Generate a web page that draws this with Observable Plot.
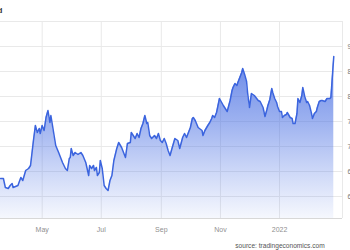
<!DOCTYPE html>
<html><head><meta charset="utf-8">
<script src="https://cdn.jsdelivr.net/npm/d3@7"></script>
<script src="https://cdn.jsdelivr.net/npm/@observablehq/plot@0.6"></script>
<style>
html,body{margin:0;padding:0;background:#fff;}
#chart{position:relative;width:350px;height:250px;overflow:hidden;}
</style></head><body><div id="chart"></div>
<script>
const dates = [
"2021-03-19","2021-03-22","2021-03-24","2021-03-27","2021-03-29","2021-03-31","2021-04-01","2021-04-06","2021-04-09","2021-04-11",
"2021-04-14","2021-04-17","2021-04-19","2021-04-22","2021-04-24","2021-04-26","2021-04-28","2021-04-29","2021-05-01","2021-05-03",
"2021-05-05","2021-05-07","2021-05-09","2021-05-10","2021-05-13","2021-05-15","2021-05-18","2021-05-22","2021-05-25","2021-05-27",
"2021-05-29","2021-05-30","2021-05-31","2021-06-02","2021-06-04","2021-06-07","2021-06-10","2021-06-12","2021-06-15","2021-06-18",
"2021-06-19","2021-06-21","2021-06-23","2021-06-24","2021-06-26","2021-06-27","2021-06-29","2021-06-30","2021-07-02","2021-07-04",
"2021-07-06","2021-07-08","2021-07-10","2021-07-12","2021-07-14","2021-07-17","2021-07-19","2021-07-22","2021-07-24","2021-07-26",
"2021-07-28","2021-07-31","2021-08-01","2021-08-03","2021-08-05","2021-08-07","2021-08-09","2021-08-11","2021-08-13","2021-08-15",
"2021-08-17","2021-08-18","2021-08-20","2021-08-22","2021-08-25","2021-08-27","2021-08-29","2021-08-31","2021-09-02","2021-09-04",
"2021-09-06","2021-09-08","2021-09-10","2021-09-12","2021-09-15","2021-09-18","2021-09-20","2021-09-23","2021-09-25","2021-09-27",
"2021-10-01","2021-10-03","2021-10-04","2021-10-06","2021-10-09","2021-10-13","2021-10-14","2021-10-16","2021-10-19","2021-10-21",
"2021-10-23","2021-10-24","2021-10-26","2021-10-28","2021-10-31","2021-11-04","2021-11-08","2021-11-11","2021-11-13","2021-11-14",
"2021-11-16","2021-11-18","2021-11-19","2021-11-21","2021-11-23","2021-11-24","2021-11-26","2021-11-28","2021-11-29","2021-12-01",
"2021-12-03","2021-12-06","2021-12-10","2021-12-12","2021-12-14","2021-12-15","2021-12-17","2021-12-19","2021-12-20","2021-12-22",
"2021-12-24","2021-12-25","2021-12-27","2021-12-29","2021-12-30","2022-01-01","2022-01-03","2022-01-04","2022-01-06","2022-01-08",
"2022-01-09","2022-01-12","2022-01-14","2022-01-15","2022-01-17","2022-01-19","2022-01-20","2022-01-22","2022-01-24","2022-01-25",
"2022-01-27","2022-01-29","2022-01-30","2022-02-01","2022-02-03","2022-02-04","2022-02-06","2022-02-08","2022-02-09","2022-02-11",
"2022-02-13","2022-02-14","2022-02-17","2022-02-19","2022-02-22","2022-02-23","2022-02-26"
];
const values = [
63.6,63.6,61.8,61.6,62.2,62.6,61.8,62.2,63.8,63.2,
65.2,65.6,66.2,71.2,74.2,72.8,73.6,72.6,74.2,73.2,
75.8,77.2,74.8,76.2,72.6,70.2,68.8,66.8,65.6,65.2,
67.6,67.8,69.6,68.2,68.8,68.4,68.8,68.2,66.8,64.2,
66.2,65.6,66.2,65.2,65.8,64.2,64.8,67.2,65.6,62.2,
61.6,61.2,63.2,64.2,67.2,69.6,70.8,69.8,68.8,67.8,
70.6,70.8,72.8,72.2,71.6,72.6,71.8,73.6,74.6,76.2,
74.6,74.8,72.2,71.6,72.2,71.6,72.6,71.2,70.8,71.6,
70.6,69.2,68.2,69.6,71.6,71.2,69.6,71.8,72.6,71.8,
73.8,75.6,75.8,75.2,73.8,73.2,72.2,73.2,74.2,74.8,
75.6,76.2,75.8,76.8,79.6,78.2,77.0,79.2,81.2,81.8,
82.6,82.2,82.8,83.8,84.8,85.6,84.4,83.0,80.8,77.8,
80.6,80.2,79.2,79.0,78.2,77.8,76.0,77.4,78.2,79.4,
81.6,80.8,79.6,78.8,78.0,77.0,77.0,75.8,76.2,76.4,
76.8,75.8,75.6,74.6,74.6,76.6,79.6,78.8,80.2,81.8,
80.0,78.8,79.0,78.2,76.6,75.6,76.6,77.0,77.8,79.0,
79.2,79.2,79.0,79.6,79.6,79.8,88.0
];
const yTicks = [60, 65, 70, 75, 80, 85, 90];
const xTicks = ["2021-05-01", "2021-07-01", "2021-09-01", "2021-11-01", "2022-01-01"];
const xDomain = ["2021-03-19", "2022-03-07"];
const yDomain = [55.6, 95];
const titleText = "d";
const sourceText = "source: tradingeconomics.com";

const data = dates.map((d, i) => ({date: new Date(d), value: values[i]}));
const xTickDates = xTicks.map(d => new Date(d));
const fmtX = d => d.getUTCMonth() === 0 ? String(d.getUTCFullYear()) : d3.utcFormat("%b")(d);

const defs = () => {
  const g = d3.create("svg:defs");
  const lg = g.append("linearGradient").attr("id", "teGrad")
    .attr("gradientUnits", "userSpaceOnUse").attr("x1", 0).attr("x2", 0).attr("y1", 21).attr("y2", 218);
  lg.append("stop").attr("offset", "0").attr("stop-color", "#3f66e0").attr("stop-opacity", 0.95);
  lg.append("stop").attr("offset", "0.5").attr("stop-color", "#4a70e3").attr("stop-opacity", 0.55);
  lg.append("stop").attr("offset", "1").attr("stop-color", "#5b7ee6").attr("stop-opacity", 0.06);
  return g.node();
};

const gridColor = "#e9e9e9";
const plot = Plot.plot({
  width: 350, height: 250,
  marginTop: 21, marginBottom: 32, marginLeft: 0, marginRight: 8,
  style: {fontFamily: "'Liberation Sans', Arial, sans-serif", fontSize: "7px", background: "#fff", overflow: "visible"},
  x: {type: "utc", domain: xDomain.map(d => new Date(d)), label: null},
  y: {domain: yDomain, label: null},
  marks: [
    defs,
    Plot.gridX(xTickDates, {stroke: gridColor, strokeOpacity: 1}),
    Plot.gridY(yTicks, {stroke: gridColor, strokeOpacity: 1}),
    Plot.ruleY([yDomain[1]], {stroke: gridColor}),
    Plot.ruleX([new Date(xDomain[1])], {stroke: gridColor}),
    Plot.areaY(data, {x: "date", y1: yDomain[0], y2: "value", fill: "url(#teGrad)", clip: true}),
    Plot.lineY(data, {x: "date", y: "value", stroke: "#3b64de", strokeWidth: 1.5, clip: true}),
    Plot.ruleY([yDomain[0]], {stroke: "#d8d8d8"}),
    Plot.axisX(xTickDates, {tickSize: 0, tickPadding: 9, fill: "#8f8f8f", tickFormat: fmtX, label: null}),
    Plot.axisY(yTicks, {anchor: "right", tickSize: 0, tickPadding: 5, fill: "#777", label: null})
  ]
});

const svg = d3.select(plot);
svg.append("text").attr("x", 0).attr("y", 13).attr("fill", "#333").attr("font-weight", "bold")
  .attr("font-size", "8px").text(titleText);
svg.append("text").attr("x", 280).attr("y", 248).attr("fill", "#555")
  .attr("font-size", "6.6px").text(sourceText);

document.getElementById("chart").append(plot);
</script>
</body></html>
